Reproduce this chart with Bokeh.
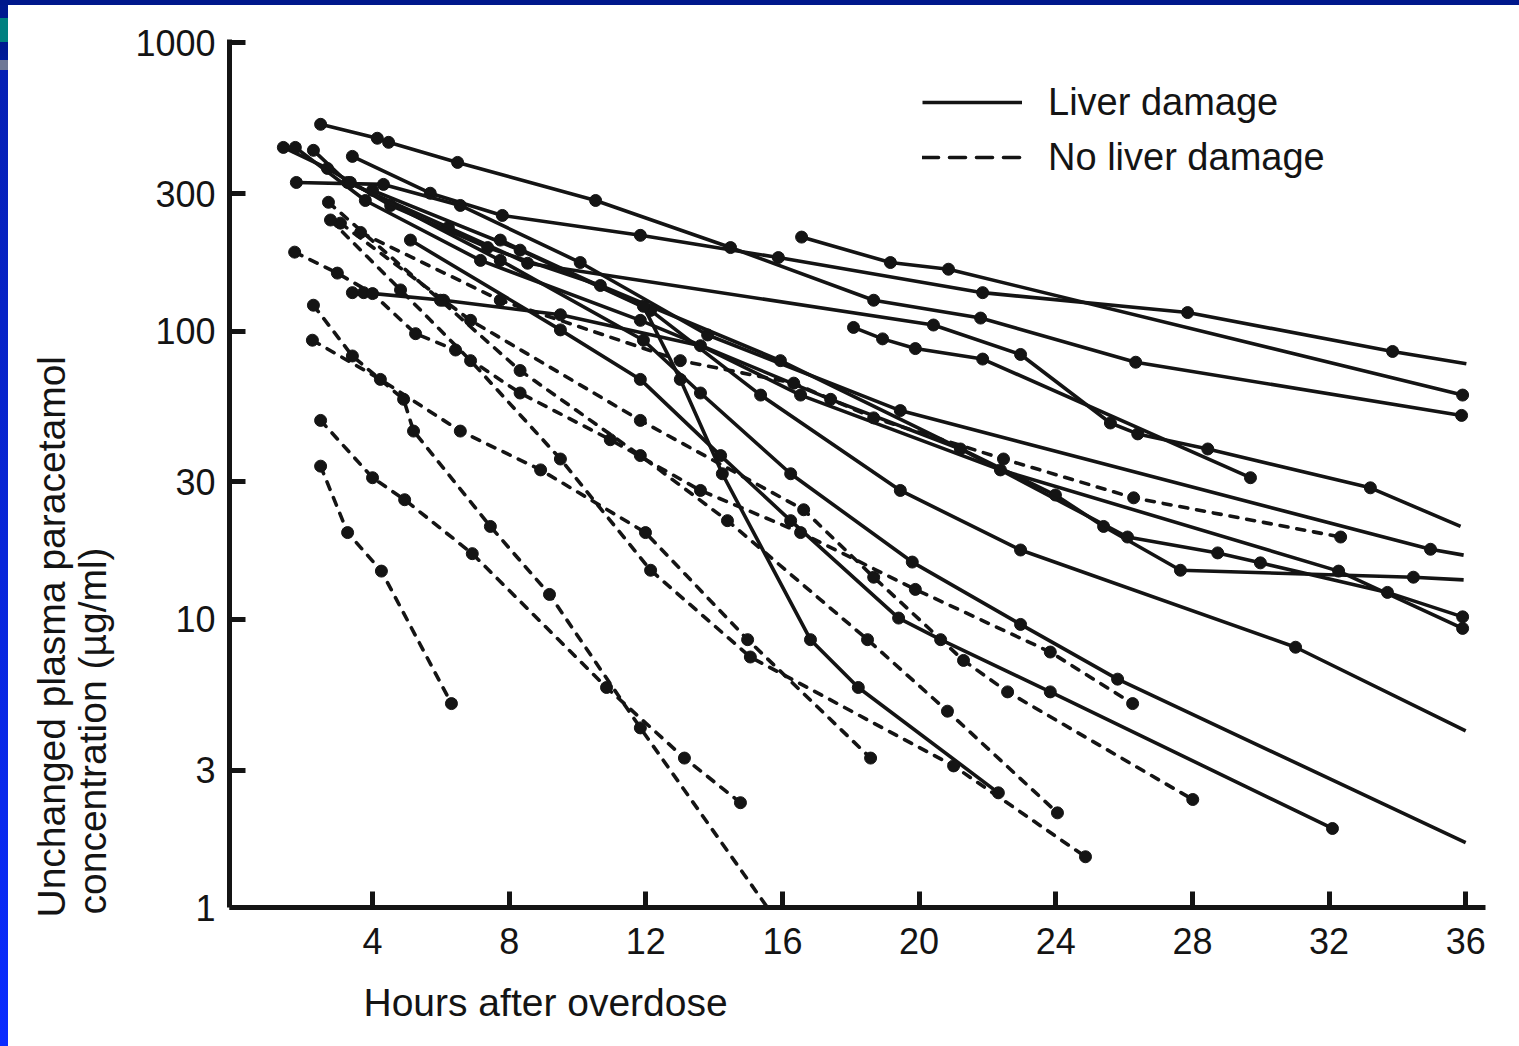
from bokeh.embed import file_html
from bokeh.layouts import column, row
from bokeh.models import (Div, FixedTicker, Legend, LegendItem,
                          PrintfTickFormatter, Range1d, Title)
from bokeh.plotting import figure
from bokeh.resources import INLINE

# ---------------------------------------------------------------------------
# Plasma paracetamol after overdose: hours vs concentration (ug/ml)
# ---------------------------------------------------------------------------

# patients who developed liver damage (solid lines)
ld01_hours = [2.48, 4.14, 4.47, 6.49, 10.53, 14.48, 18.67, 21.80, 26.34, 35.88]
ld01_conc = [522, 467, 452, 385, 284, 195, 128, 111, 78, 51]

ld02_hours = [3.41, 5.69, 7.80, 11.84, 15.88, 21.86, 27.86, 33.86, 36.02]
ld02_conc = [404, 301, 252, 215, 180, 136, 116, 85, 77]

ld03_hours = [16.56, 19.16, 20.86, 35.91]
ld03_conc = [212, 173, 164, 60]

ld04_hours = [2.27, 3.27, 6.22, 8.54, 20.42, 22.97, 25.60, 26.40, 28.45, 33.21, 35.85]
ld04_conc = [424, 328, 229, 172, 105, 83, 48, 44, 39, 28.6, 21]

ld05_hours = [18.08, 18.93, 19.89, 21.86, 29.70]
ld05_conc = [103, 94, 87, 80, 31]

ld06_hours = [1.77, 4.32, 6.57, 10.08, 13.81, 19.45, 34.97, 35.94]
ld06_conc = [328, 323, 273, 173, 97, 53, 17.5, 16.7]

ld07_hours = [1.39, 2.68, 4.53, 7.37, 10.67, 15.94, 23.99, 25.40, 27.65, 34.47, 35.94]
ld07_conc = [434, 367, 273, 195, 144, 79, 27, 21, 14.8, 14.0, 13.7]

ld08_hours = [1.74, 3.79, 7.16, 11.84, 17.41, 21.21, 26.10, 28.74, 29.99, 33.71, 35.91]
ld08_conc = [434, 284, 176, 109, 58, 39, 19.3, 17.0, 15.7, 12.4, 10.2]

ld09_hours = [3.41, 3.74, 6.08, 9.50, 13.60, 16.53, 22.38, 32.28, 35.91]
ld09_conc = [136, 136, 128, 114, 89, 60, 33, 14.7, 9.3]

ld10_hours = [4.00, 8.32, 12.14, 15.36, 19.45, 22.97, 31.02, 36.00]
ld10_conc = [308, 191, 118, 60, 28, 17.4, 8.0, 4.1]

ld11_hours = [3.35, 7.74, 11.93, 13.60, 16.24, 19.80, 22.97, 25.81, 36.00]
ld11_conc = [328, 176, 93, 61, 32, 15.8, 9.6, 6.2, 1.68]

ld12_hours = [5.11, 9.50, 11.84, 14.19, 16.24, 19.40, 20.63, 23.84, 32.10]
ld12_conc = [207, 101, 68, 37, 22, 10.1, 8.5, 5.6, 1.88]

ld13_hours = [7.74, 11.93, 13.01, 14.24, 16.82, 18.22, 22.32]
ld13_conc = [207, 122, 68, 32, 8.5, 5.8, 2.5]

# patients without liver damage (dashed lines)
nd01_hours = [2.48, 3.27, 4.26, 6.31]
nd01_conc = [34, 20, 14.7, 5.1]

nd02_hours = [2.48, 4.00, 4.94, 6.92, 10.85, 13.13, 14.77]
nd02_conc = [49, 31, 26, 16.9, 5.8, 3.3, 2.31]

nd03_hours = [2.27, 3.41, 4.91, 5.20, 7.45, 9.18, 11.84, 15.56]
nd03_conc = [123, 82, 58, 45, 21, 12.2, 4.2, 1.0]

nd04_hours = [2.24, 4.23, 6.57, 8.92, 11.99, 14.98, 18.58]
nd04_conc = [93, 68, 45, 33, 20, 8.5, 3.3]

nd05_hours = [2.71, 5.99, 8.32, 11.84, 14.39, 18.49, 20.83, 24.05]
nd05_conc = [280, 128, 73, 37, 22, 8.5, 4.8, 2.13]

nd06_hours = [3.06, 6.87, 11.84, 16.62, 18.67, 21.30, 22.59, 28.01]
nd06_conc = [237, 109, 49, 24, 14.0, 7.2, 5.6, 2.37]

nd07_hours = [3.65, 7.74, 13.01, 16.33, 18.67, 22.47, 26.28, 32.34]
nd07_conc = [220, 128, 79, 66, 50, 36, 26.4, 19.3]

nd08_hours = [1.72, 2.97, 4.00, 5.26, 6.43, 8.32, 10.96, 13.60, 16.53, 19.89, 23.84, 26.25]
nd08_conc = [188, 159, 135, 98, 86, 61, 42, 28, 20, 12.7, 7.7, 5.1]

nd09_hours = [2.77, 4.82, 6.87, 9.50, 12.14, 15.06, 21.01, 24.87]
nd09_conc = [243, 139, 79, 36, 14.8, 7.4, 3.1, 1.50]

# curves whose last vertex is where the drawn line stops, not a sample
open_ended = {"ld02", "ld04", "ld06", "ld07", "ld10", "ld11", "nd03"}

hour_ticks = [4, 8, 12, 16, 20, 24, 28, 32, 36]
conc_ticks = [1, 3, 10, 30, 100, 300, 1000]

legend_labels = ["Liver damage", "No liver damage"]
x_title = "Hours after overdose"
y_title_lines = ["Unchanged plasma paracetamol", "concentration (\u00b5g/ml)"]

liver_damage = [
    ("ld01", ld01_hours, ld01_conc), ("ld02", ld02_hours, ld02_conc),
    ("ld03", ld03_hours, ld03_conc), ("ld04", ld04_hours, ld04_conc),
    ("ld05", ld05_hours, ld05_conc), ("ld06", ld06_hours, ld06_conc),
    ("ld07", ld07_hours, ld07_conc), ("ld08", ld08_hours, ld08_conc),
    ("ld09", ld09_hours, ld09_conc), ("ld10", ld10_hours, ld10_conc),
    ("ld11", ld11_hours, ld11_conc), ("ld12", ld12_hours, ld12_conc),
    ("ld13", ld13_hours, ld13_conc),
]
no_damage = [
    ("nd01", nd01_hours, nd01_conc), ("nd02", nd02_hours, nd02_conc),
    ("nd03", nd03_hours, nd03_conc), ("nd04", nd04_hours, nd04_conc),
    ("nd05", nd05_hours, nd05_conc), ("nd06", nd06_hours, nd06_conc),
    ("nd07", nd07_hours, nd07_conc), ("nd08", nd08_hours, nd08_conc),
    ("nd09", nd09_hours, nd09_conc),
]

INK = "#141414"
FONT = "Liberation Sans"
DASH = "8 9"

p = figure(
    width=1511, height=1041,
    x_range=Range1d(-0.187, 36.58),
    y_range=Range1d(1, 1028),
    y_axis_type="log",
    output_backend="svg",
    toolbar_location=None,
    title=None,
    min_border_left=221, min_border_right=34,
    min_border_top=34, min_border_bottom=138,
)
p.outline_line_color = None
p.xgrid.visible = False
p.ygrid.visible = False
p.background_fill_color = "white"
p.border_fill_color = "white"


def draw_case(name, hours, conc, dash):
    style = dict(line_color=INK, line_width=3.6, line_join="round")
    if dash:
        style.update(line_dash=DASH, line_cap="round")
    p.line(hours, conc, **style)
    n = len(hours) - 1 if name in open_ended else len(hours)
    p.scatter(hours[:n], conc[:n], marker="circle", size=12,
              fill_color=INK, line_color=INK)


for name, hours, conc in liver_damage:
    draw_case(name, hours, conc, dash=False)
for name, hours, conc in no_damage:
    draw_case(name, hours, conc, dash=True)

# axes
for ax in (p.xaxis[0], p.yaxis[0]):
    ax.axis_line_width = 5
    ax.axis_line_color = INK
    ax.major_tick_line_width = 5
    ax.major_tick_line_color = INK
    ax.major_tick_in = 16
    ax.major_tick_out = 0
    ax.minor_tick_line_color = None
    ax.major_label_text_font = FONT
    ax.major_label_text_font_size = "36px"
    ax.major_label_text_color = INK
p.yaxis.major_label_standoff = 14
p.xaxis.major_label_standoff = 20

p.xaxis.ticker = FixedTicker(ticks=hour_ticks)
p.yaxis.ticker = FixedTicker(ticks=conc_ticks)
p.yaxis.formatter = PrintfTickFormatter(format="%d")

# axis titles (left-aligned, as on the printed figure)
title_style = dict(text_font=FONT, text_font_size="39px", text_color=INK,
                   text_font_style="normal", align="left")
p.add_layout(Title(text=x_title, offset=134, standoff=45, **title_style), "below")
p.add_layout(Title(text=y_title_lines[1], offset=-7, standoff=33,
                   vertical_align="top", **title_style), "left")
p.add_layout(Title(text=y_title_lines[0], offset=-10, standoff=-37,
                   vertical_align="bottom", **title_style), "left")

# legend keys (their own short samples, parked outside the frame)
solid_key = p.line([-20, -19], [1000, 1000], line_color=INK, line_width=3.6)
dash_key = p.line([-20, -19], [1000, 1000], line_color=INK, line_width=3.6,
                  line_dash="16 11", line_cap="round")
legend = Legend(
    items=[LegendItem(label=legend_labels[0], renderers=[solid_key]),
           LegendItem(label=legend_labels[1], renderers=[dash_key])],
    location=(693, 725), orientation="vertical",
    padding=0, margin=0, spacing=5,
    glyph_width=100, glyph_height=50, label_height=50, label_standoff=26,
    border_line_color=None, background_fill_alpha=0,
    label_text_font=FONT, label_text_font_size="38px", label_text_color=INK,
    label_text_baseline="middle",
)
p.add_layout(legend)

# slide frame around the figure
top_bar = Div(width=1519, height=5, margin=0,
              styles={"background-color": "#00188c"})
side_bar = Div(width=8, height=1041, margin=0, styles={
    "background": "linear-gradient(to bottom, #00198f 0px, #00198f 13px, "
                  "#008080 13px, #008080 37px, #00198f 37px, #001c9a 55px, "
                  "#6e7896 55px, #6e7896 65px, #0620b4 65px, #0a2cff 100%)"})

page = column(top_bar, row(side_bar, p, spacing=0), spacing=0)

open("out.html", "w").write(file_html(page, INLINE))
